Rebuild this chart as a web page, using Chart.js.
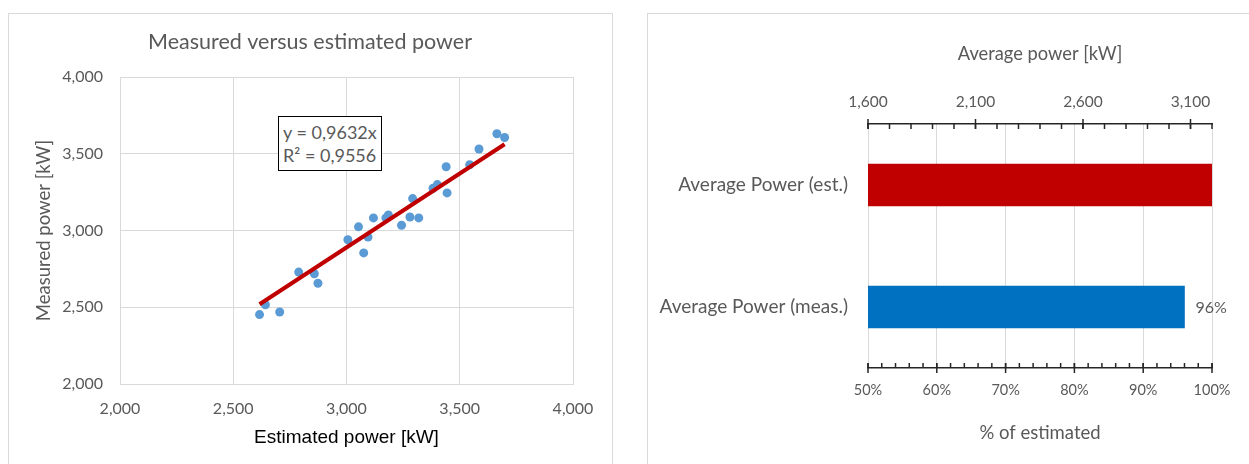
<!DOCTYPE html>
<html>
<head>
<meta charset="utf-8">
<script src="https://cdn.jsdelivr.net/npm/chart.js@4"></script>
<style>
  body { margin: 0; background: #fff; width: 1249px; height: 464px; overflow: hidden; position: relative; }
  .panel { position: absolute; border: 1.5px solid #d9d9d9; background: #fff; box-sizing: border-box; }
  #leftPanel { left: 8px; top: 13px; width: 605px; height: 470px; }
  #rightPanel { left: 647px; top: 13px; width: 620px; height: 470px; }
  canvas { position: absolute; left: 0; top: 0; }
  #eqBox {
    position: absolute; left: 278px; top: 116px; width: 104px; height: 55px;
    border: 1.5px solid #000; box-sizing: border-box; background: #fff;
    font-family: Lato, 'Open Sans', sans-serif; font-size: 18px; color: #595959;
    line-height: 23px; padding: 4px 0 0 4px; white-space: nowrap;
  }
</style>
</head>
<body>
<div class="panel" id="leftPanel"><canvas id="scatterChart" width="602" height="450"></canvas></div>
<div class="panel" id="rightPanel"><canvas id="barChart" width="600" height="450"></canvas></div>
<div id="eqBox"></div>
<script>
// Scatter: estimated vs measured power [kW]
const estimatedPower = [2616, 2642, 2705, 2789, 2858, 2874, 3006, 3053, 3076, 3095, 3119, 3174, 3185,
                        3243, 3280, 3292, 3319, 3382, 3401, 3440, 3444, 3544, 3585, 3664, 3698];
const measuredPower  = [2452, 2516, 2469, 2729, 2718, 2656, 2940, 3024, 2854, 2957, 3082, 3082, 3101,
                        3034, 3088, 3208, 3082, 3275, 3299, 3415, 3245, 3428, 3531, 3630, 3606];
const trendSlope = 0.9632;
const trendR2 = 0.9556;
const powerTicks = [2000, 2500, 3000, 3500, 4000];

// Bars: average power
const barLabels = ['Average Power (est.)', 'Average Power (meas.)'];
const avgEstimatedKw = [3200, null];
const avgMeasuredPct = [null, 0.96];
const kwTicks = [1600, 2100, 2600, 3100];
const pctTicks = [0.5, 0.6, 0.7, 0.8, 0.9, 1.0];

const FONT = "Lato, 'Open Sans', sans-serif";
const GREY = '#595959';
const GRID = '#d9d9d9';

document.getElementById('eqBox').innerHTML =
  'y = ' + trendSlope.toFixed(4).replace('.', ',') + 'x<br>R² = ' + trendR2.toFixed(4).replace('.', ',');

const fmt = v => v.toLocaleString('en-US');

// Chart title centred over the whole canvas (not just the padded box)
const panelTitle = {
  id: 'panelTitle',
  afterDraw(chart, args, opts) {
    const ctx = chart.ctx;
    ctx.save();
    ctx.fillStyle = GREY;
    ctx.font = opts.size + 'px ' + FONT;
    ctx.textAlign = 'center';
    ctx.textBaseline = 'middle';
    ctx.fillText(opts.text, chart.width / 2, opts.y);
    ctx.restore();
  }
};

// Render scatter chart
const minX = Math.min(...estimatedPower);
const maxX = Math.max(...estimatedPower);
new Chart(document.getElementById('scatterChart'), {
  type: 'scatter',
  data: {
    datasets: [{
      type: 'line',
      data: [{ x: minX, y: trendSlope * minX }, { x: maxX, y: trendSlope * maxX }],
      borderColor: '#c00000',
      borderWidth: 4,
      pointRadius: 0,
      order: 0
    }, {
      data: estimatedPower.map((x, i) => ({ x: x, y: measuredPower[i] })),
      backgroundColor: '#5b9bd5',
      borderWidth: 0,
      pointRadius: 4.5,
      order: 1
    }]
  },
  options: {
    responsive: false,
    animation: false,
    layout: { padding: { left: 0, right: 38, top: 63, bottom: 0 } },
    plugins: {
      legend: { display: false },
      tooltip: { enabled: false },
      panelTitle: { text: 'Measured versus estimated power', size: 21.5, y: 28.5 }
    },
    scales: {
      x: {
        type: 'linear', min: 2000, max: 4000,
        afterBuildTicks: s => { s.ticks = powerTicks.map(v => ({ value: v })); },
        afterFit: s => { s.height = 80; },
        grid: { color: GRID, drawTicks: false },
        border: { color: GRID },
        ticks: { color: GREY, padding: 15, font: { family: FONT, size: 16 }, callback: fmt },
        title: {
          display: true, text: 'Estimated power [kW]', color: '#000',
          font: { family: "'Liberation Sans', Arial, sans-serif", size: 19 },
          padding: { top: 15, bottom: 15 }
        }
      },
      y: {
        type: 'linear', min: 2000, max: 4000,
        afterBuildTicks: s => { s.ticks = powerTicks.map(v => ({ value: v })); },
        afterFit: s => { s.width = 111; },
        grid: { color: GRID, drawTicks: false },
        border: { color: GRID },
        ticks: { color: GREY, padding: 17, font: { family: FONT, size: 16 }, callback: fmt },
        title: {
          display: true, text: 'Measured power [kW]', color: GREY,
          font: { family: FONT, size: 18.5 },
          padding: { top: 24, bottom: 24 }
        }
      }
    }
  },
  plugins: [panelTitle]
});

// Tick marks (major crossing the axis line, minor on the plot side)
const tickMarks = {
  id: 'tickMarks',
  afterDraw(chart) {
    const ctx = chart.ctx;
    ctx.save();
    ctx.strokeStyle = '#262626';
    ctx.lineWidth = 1.5;
    const marks = (scale, major, minor, dir) => {
      const y = dir < 0 ? scale.bottom : scale.top;
      major.forEach(v => {
        const x = scale.getPixelForValue(v);
        ctx.beginPath(); ctx.moveTo(x, y - 5); ctx.lineTo(x, y + 5); ctx.stroke();
      });
      minor.forEach(v => {
        const x = scale.getPixelForValue(v);
        ctx.beginPath(); ctx.moveTo(x, y); ctx.lineTo(x, y - 5 * dir); ctx.stroke();
      });
    };
    const top = chart.scales.x2;
    const kwMinor = [];
    for (let v = top.min; v <= top.max + 1e-6; v += 100) kwMinor.push(v);
    marks(top, kwTicks, kwMinor, -1);
    const bottom = chart.scales.x;
    const pctMinor = [];
    for (let i = 0; i <= 25; i++) pctMinor.push(bottom.min + i * 0.02);
    marks(bottom, pctTicks, pctMinor, 1);
    ctx.restore();
  }
};

// Value label at the end of the measured bar
const barValueLabel = {
  id: 'barValueLabel',
  afterDatasetsDraw(chart) {
    const ctx = chart.ctx;
    const meta = chart.getDatasetMeta(1);
    ctx.save();
    ctx.fillStyle = GREY;
    ctx.font = '16px ' + FONT;
    ctx.textBaseline = 'middle';
    avgMeasuredPct.forEach((v, i) => {
      if (v == null) return;
      const bar = meta.data[i];
      ctx.fillText(Math.round(v * 100) + '%', bar.x + 11, bar.y + 1);
    });
    ctx.restore();
  }
};

// Render bar chart
new Chart(document.getElementById('barChart'), {
  type: 'bar',
  data: {
    labels: barLabels,
    datasets: [{
      data: avgEstimatedKw,
      xAxisID: 'x2',
      backgroundColor: '#c00000',
      barThickness: 42,
      grouped: false
    }, {
      data: avgMeasuredPct,
      xAxisID: 'x',
      backgroundColor: '#0070c0',
      barThickness: 42,
      grouped: false
    }]
  },
  options: {
    indexAxis: 'y',
    responsive: false,
    animation: false,
    layout: { padding: { left: 0, right: 36, top: 0, bottom: 0 } },
    plugins: { legend: { display: false }, tooltip: { enabled: false } },
    scales: {
      x2: {
        type: 'linear', position: 'top', min: 1600, max: 3200,
        afterBuildTicks: s => { s.ticks = kwTicks.map(v => ({ value: v })); },
        afterFit: s => { s.height = 110; },
        grid: { display: false },
        border: { color: '#262626', width: 1.5 },
        ticks: { color: GREY, padding: 5, font: { family: FONT, size: 15.5 }, callback: fmt },
        title: {
          display: true, text: 'Average power [kW]', color: GREY,
          font: { family: FONT, size: 18.3 },
          padding: { top: 29, bottom: 29 }
        }
      },
      x: {
        type: 'linear', position: 'bottom', min: 0.5, max: 1.0,
        afterBuildTicks: s => { s.ticks = pctTicks.map(v => ({ value: v })); },
        afterFit: s => { s.height = 96; },
        grid: { color: GRID, drawTicks: false },
        border: { color: '#262626', width: 1.5 },
        ticks: { color: GREY, padding: 14, font: { family: FONT, size: 14.5 }, callback: v => Math.round(v * 100) + '%' },
        title: {
          display: true, text: '% of estimated', color: GREY,
          font: { family: FONT, size: 18.5 },
          padding: { top: 20, bottom: 20 }
        }
      },
      y: {
        afterFit: s => { s.width = 220; },
        grid: { display: false },
        border: { display: false },
        ticks: { color: GREY, padding: 12, font: { family: FONT, size: 19 } }
      }
    }
  },
  plugins: [tickMarks, barValueLabel]
});
</script>
</body>
</html>
